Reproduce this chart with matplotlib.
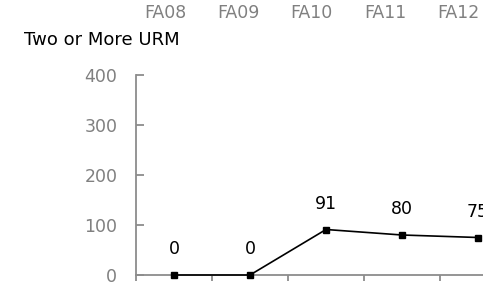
import matplotlib.pyplot as plt
import numpy as np
from matplotlib.transforms import blended_transform_factory

# data
terms = ['FA08', 'FA09', 'FA10', 'FA11', 'FA12']
counts = [0, 0, 91, 80, 75]
y_ticks = [0, 100, 200, 300, 400]

grey_txt = '#808080'
grey_ax = '#8c8c8c'

plt.rcParams['font.family'] = 'DejaVu Sans'

fig = plt.figure(figsize=(4.83, 2.86), dpi=100)
# axes runs past the right edge, as in the cropped original
ax = fig.add_axes([136 / 483, 11 / 286, 380 / 483, 200 / 286])

x = np.arange(len(terms))
ax.plot(x, counts, color='black', lw=1.2, marker='s', ms=4.4, clip_on=False, zorder=3)

# value labels above each point
for xi, v in zip(x, counts):
    ax.annotate(str(v), (xi, v), xytext=(0, 18.5), textcoords='offset points',
                ha='center', va='center', fontsize=12.5, color='black')

ax.set_xlim(-0.5, len(terms) - 0.5)
ax.set_ylim(0, 400)

# spines
for s in ['top', 'right']:
    ax.spines[s].set_visible(False)
for s in ['left', 'bottom']:
    ax.spines[s].set_color(grey_ax)
    ax.spines[s].set_linewidth(1.3)

ax.set_yticks(y_ticks)
ax.set_yticklabels([str(t) for t in y_ticks])
ax.tick_params(axis='y', direction='in', length=6, width=1.3, color=grey_ax,
               labelcolor=grey_txt, labelsize=12.5, pad=13.5)

# category boundaries as bottom ticks, no labels there
ax.set_xticks(np.arange(len(terms) + 1) - 0.5)
ax.set_xticklabels([])
ax.tick_params(axis='x', direction='out', length=4, width=1.3, color=grey_ax)

# term labels along the top
trans = blended_transform_factory(ax.transData, fig.transFigure)
for i, t in enumerate(terms):
    ax.text(0.965 * i - 0.12, 1 - 12.5 / 286, t, transform=trans,
            ha='center', va='center', fontsize=12.5, color=grey_txt)

fig.text(24 / 483, 1 - 40 / 286, 'Two or More URM', ha='left', va='center',
         fontsize=13, color='black')

plt.savefig('out.png', dpi=100)
